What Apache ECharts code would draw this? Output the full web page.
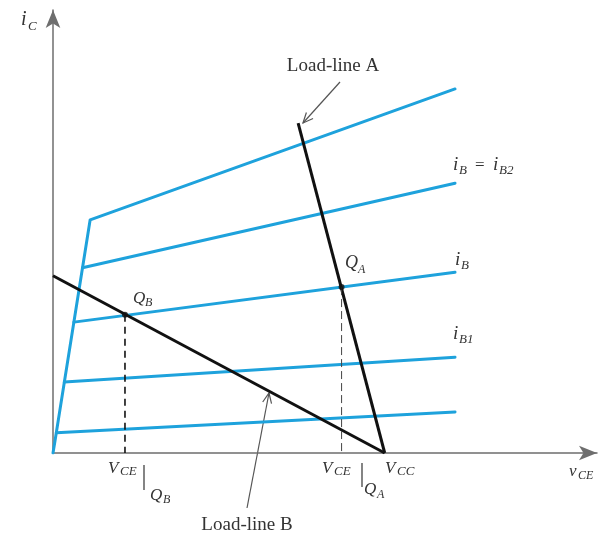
<!DOCTYPE html>
<html>
<head>
<meta charset="utf-8">
<script src="https://cdn.jsdelivr.net/npm/echarts@6/dist/echarts.min.js"></script>
<style>
html, body { margin: 0; padding: 0; background: #fff; }
#chart { width: 607px; height: 539px; }
</style>
</head>
<body>
<div id="chart"></div>
<script>
// Collector characteristics i_C(v_CE), top to bottom. The top curve carries the
// shared saturation edge from the origin; the others leave it at their knee.
const curveTop = [[0, 0], [0.06, 0.30], [1.12, 5.79], [12.12, 9.04]];
const curveB2  = [[0.89, 4.60], [12.12, 6.70]];
const curveB   = [[0.63, 3.25], [12.12, 4.49]];
const curveB1  = [[0.34, 1.76], [12.12, 2.38]];
const curveLow = [[0.10, 0.50], [12.12, 1.02]];

// Two load lines ending at V_CC
const vcc = 10;
const loadLineA = [[7.39, 8.19], [vcc, 0]];
const loadLineB = [[0, 4.40], [vcc, 0]];

// Operating points on the i_B curve
const qA = [8.70, 4.12];
const qB = [2.17, 3.43];

const xMax = 16.4;
const yMax = 11.0;

const BLUE = '#1ea2dc';
const INK = '#333';
const SERIF = '"Liberation Serif", "DejaVu Serif", serif';

function curve(data) {
  return {
    type: 'line', data, symbol: 'none', silent: true,
    lineStyle: { color: BLUE, width: 3, join: 'round', cap: 'round' }, z: 2
  };
}

function t(text, x, y, size, italic, align) {
  return {
    type: 'text', x, y, silent: true,
    style: {
      text, fill: INK, fontSize: size, fontFamily: SERIF,
      fontStyle: italic ? 'italic' : 'normal',
      align: align || 'left', verticalAlign: 'middle'
    }
  };
}

function arrowHead(tipX, tipY, fromX, fromY, len) {
  const a = Math.atan2(tipY - fromY, tipX - fromX);
  const s = 0.42;
  return {
    type: 'polyline', silent: true,
    shape: { points: [
      [tipX - len * Math.cos(a - s), tipY - len * Math.sin(a - s)],
      [tipX, tipY],
      [tipX - len * Math.cos(a + s), tipY - len * Math.sin(a + s)]
    ] },
    style: { stroke: '#555', lineWidth: 1.2, fill: null }
  };
}

function pointer(x1, y1, x2, y2) {
  return [
    { type: 'line', silent: true, shape: { x1, y1, x2, y2 }, style: { stroke: '#555', lineWidth: 1.2 } },
    arrowHead(x2, y2, x1, y1, 11)
  ];
}

const chart = echarts.init(document.getElementById('chart'), null, { renderer: 'canvas' });

const axisCommon = {
  type: 'value', min: 0,
  axisLine: { show: true, symbol: ['none', 'arrow'], symbolSize: [11, 18],
              lineStyle: { color: '#6e6e6e', width: 1.5 } },
  axisTick: { show: false }, axisLabel: { show: false }, splitLine: { show: false }
};

chart.setOption({
  animation: false,
  backgroundColor: '#fff',
  grid: { left: 53, right: 10, top: 10, bottom: 86 },
  xAxis: Object.assign({}, axisCommon, { max: xMax }),
  yAxis: Object.assign({}, axisCommon, { max: yMax }),
  series: [
    curve(curveTop), curve(curveB2), curve(curveB), curve(curveB1), curve(curveLow),
    { type: 'line', data: loadLineA, symbol: 'none', silent: true, z: 3,
      lineStyle: { color: '#111', width: 3 } },
    { type: 'line', data: loadLineB, symbol: 'none', silent: true, z: 3,
      lineStyle: { color: '#111', width: 3 } },
    { type: 'line', data: [qB, [qB[0], 0]], symbol: 'none', silent: true, z: 3,
      lineStyle: { color: '#111', width: 1.6, type: [7, 5] } },
    { type: 'line', data: [qA, [qA[0], 0]], symbol: 'none', silent: true, z: 3,
      lineStyle: { color: '#444', width: 1, type: [8, 4] } },
    { type: 'scatter', data: [qA, qB], symbol: 'circle', symbolSize: 6, silent: true, z: 4,
      itemStyle: { color: '#111' } }
  ],
  graphic: [
    // axis names
    t('i', 21, 20, 20, true), t('C', 28, 27, 13, true),
    t('v', 569, 472, 17, true), t('CE', 578, 476, 12, true),
    // V_CC
    t('V', 385, 469, 17, true), t('CC', 397, 472, 13, true),
    // V_CE at Q_A
    t('V', 322, 469, 17, true), t('CE', 334, 472, 13, true),
    { type: 'line', silent: true, shape: { x1: 362, y1: 463, x2: 362, y2: 487 }, style: { stroke: INK, lineWidth: 1.2 } },
    t('Q', 364, 490, 17, true), t('A', 377, 495, 12, true),
    // V_CE at Q_B
    t('V', 108, 469, 17, true), t('CE', 120, 472, 13, true),
    { type: 'line', silent: true, shape: { x1: 144, y1: 465, x2: 144, y2: 490 }, style: { stroke: INK, lineWidth: 1.2 } },
    t('Q', 150, 496, 17, true), t('B', 163, 500, 12, true),
    // operating point names
    t('Q', 133, 299, 17, true), t('B', 145, 303, 12, true),
    t('Q', 345, 263, 18, true), t('A', 358, 270, 12, true),
    // base-current labels
    t('i', 453, 165, 19, true), t('B', 459, 171, 13, true),
    t('=', 475, 166, 17, false),
    t('i', 493, 165, 19, true), t('B2', 499, 171, 13, true),
    t('i', 455, 260, 19, true), t('B', 461, 266, 13, true),
    t('i', 453, 334, 19, true), t('B1', 459, 340, 13, true),
    // load-line captions with pointers
    t('Load-line A', 333, 66, 19, false, 'center'),
    ...pointer(340, 82, 303, 123),
    t('Load-line B', 247, 525, 19, false, 'center'),
    ...pointer(247, 508, 269, 393)
  ]
});
</script>
</body>
</html>
